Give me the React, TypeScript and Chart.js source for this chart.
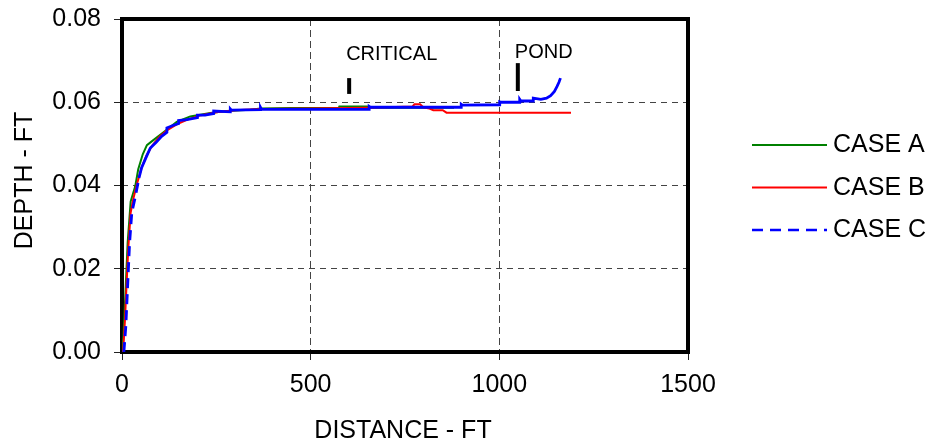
import React, { useEffect, useRef } from "react";
import { Chart, registerables } from "chart.js";

Chart.register(...registerables);

const FONT = '"Liberation Sans", Arial, Helvetica, sans-serif';

// Series names and colours
const seriesNames = ["CASE A", "CASE B", "CASE C"];
const seriesColors = ["#008000", "#ff0000", "#0000ff"];

// Axis ranges / tick steps
const distTicks = [0, 500, 1000, 1500];
const depthTicks = [0, 0.02, 0.04, 0.06, 0.08];

// CASE A profile (distance ft, depth ft)
const caseADist = [0, 4, 9, 15, 23, 35, 43, 55, 66, 83, 110, 145, 181, 234, 278, 340, 367, 450, 574, 576, 650, 655, 880];
const caseADepth = [0, 0.004, 0.014, 0.0263, 0.0362, 0.0398, 0.0439, 0.0475, 0.0497, 0.0509, 0.0528, 0.0553, 0.0566, 0.0574, 0.0579, 0.0582, 0.0585, 0.0586, 0.0586, 0.059, 0.059, 0.0587, 0.0587];

// CASE B profile
const caseBDist = [3, 8, 13, 17, 23, 30, 40, 52, 65, 80, 100, 120, 145, 175, 210, 250, 300, 367, 500, 655, 770, 775, 790, 800, 815, 825, 850, 860, 1190];
const caseBDepth = [0, 0.008, 0.018, 0.0254, 0.0335, 0.0368, 0.0405, 0.0443, 0.0472, 0.0496, 0.0518, 0.0533, 0.0547, 0.0559, 0.0569, 0.0576, 0.0581, 0.0584, 0.0585, 0.0587, 0.059, 0.0595, 0.0595, 0.0587, 0.0585, 0.0581, 0.0581, 0.0575, 0.0575];

// CASE C profile
const caseCDist = [5, 10, 15, 20, 26, 35, 45, 52, 65, 75, 90, 105, 119, 119, 135, 150, 150, 172, 200, 200, 220, 243, 243, 287, 287, 290, 367, 367, 370, 655, 655, 658, 899, 899, 902, 1001, 1001, 1004, 1054, 1054, 1057, 1090, 1090, 1110, 1125, 1136, 1146, 1153, 1158, 1162];
const caseCDepth = [0, 0.006, 0.016, 0.026, 0.0335, 0.0372, 0.0418, 0.0443, 0.047, 0.049, 0.0503, 0.0518, 0.0528, 0.0538, 0.0544, 0.0549, 0.0556, 0.0558, 0.0563, 0.0569, 0.0569, 0.0573, 0.0579, 0.0577, 0.0584, 0.0581, 0.0582, 0.0588, 0.0583, 0.0583, 0.059, 0.0588, 0.0588, 0.0595, 0.0593, 0.0594, 0.0601, 0.06, 0.06, 0.0607, 0.0603, 0.0603, 0.061, 0.0607, 0.061, 0.0616, 0.0626, 0.0638, 0.0648, 0.0658];

// Location markers
const markerLabels = ["CRITICAL", "POND"];
const markerDist = [602, 1049];
const markerLow = [0.062, 0.0627];
const markerHigh = [0.0658, 0.0694];
const labelDepth = [0.0702, 0.0706];

const toPoints = (xs: number[], ys: number[]) => xs.map((x, i) => ({ x, y: ys[i] }));

const decorations = {
  id: "decorations",
  beforeDatasetsDraw(chart: any) {
    const { ctx, chartArea: a } = chart;
    ctx.save();
    ctx.strokeStyle = "#000";
    ctx.lineWidth = 4;
    ctx.strokeRect(a.left, a.top, a.right - a.left, a.bottom - a.top);
    ctx.restore();
  },
  afterDraw(chart: any) {
    const { ctx, chartArea: a, scales } = chart;
    const xs = scales.x;
    const ys = scales.y;
    ctx.save();
    ctx.fillStyle = "#000";

    // marker captions
    ctx.font = `20px ${FONT}`;
    ctx.textAlign = "left";
    ctx.textBaseline = "alphabetic";
    markerLabels.forEach((t, i) => {
      ctx.fillText(t, xs.getPixelForValue(markerDist[i]) - 3, ys.getPixelForValue(labelDepth[i]));
    });

    // axis titles
    ctx.font = `25px ${FONT}`;
    ctx.textAlign = "center";
    ctx.fillText("DISTANCE - FT", (a.left + a.right) / 2 - 2, 438);
    ctx.save();
    ctx.translate(32, (a.top + a.bottom) / 2 - 5);
    ctx.rotate(-Math.PI / 2);
    ctx.fillText("DEPTH - FT", 0, 0);
    ctx.restore();

    // legend
    const lx0 = a.right + 64;
    const lx1 = lx0 + 75;
    seriesNames.forEach((name, i) => {
      const ly = 145 + i * 42.5;
      ctx.save();
      ctx.strokeStyle = seriesColors[i];
      ctx.lineWidth = i === 2 ? 2.5 : 2;
      ctx.setLineDash(i === 2 ? [11, 7] : []);
      ctx.beginPath();
      ctx.moveTo(lx0, ly);
      ctx.lineTo(lx1, ly);
      ctx.stroke();
      ctx.restore();
      ctx.textAlign = "left";
      ctx.fillText(name, lx1 + 6, ly + 7);
    });
    ctx.restore();
  },
};

export default function App() {
  const canvasRef = useRef<HTMLCanvasElement | null>(null);

  useEffect(() => {
    const canvas = canvasRef.current;
    if (!canvas) return;

    const edgeClear = (edges: number[]) => (c: any) =>
      c.tick && edges.some((e) => Math.abs(c.tick.value - e) < 1e-9) ? "rgba(0,0,0,0)" : "#444";

    const markerSets = markerDist.map((d, i) => ({
      label: markerLabels[i],
      data: [
        { x: d, y: markerLow[i] },
        { x: d, y: markerHigh[i] },
      ],
      showLine: true,
      borderColor: "#000",
      borderWidth: 4,
      pointRadius: 0,
      order: 0,
    }));

    const chart = new Chart(canvas, {
      type: "scatter",
      data: {
        datasets: [
          {
            label: seriesNames[2],
            data: toPoints(caseCDist, caseCDepth),
            showLine: true,
            borderColor: seriesColors[2],
            borderWidth: 2.8,
            pointRadius: 0,
            order: 1,
            segment: {
              borderDash: (c: any) => (c.p1.parsed.y < 0.044 ? [10, 6] : undefined),
            },
          },
          {
            label: seriesNames[1],
            data: toPoints(caseBDist, caseBDepth),
            showLine: true,
            borderColor: seriesColors[1],
            borderWidth: 2,
            pointRadius: 0,
            order: 2,
          },
          {
            label: seriesNames[0],
            data: toPoints(caseADist, caseADepth),
            showLine: true,
            borderColor: seriesColors[0],
            borderWidth: 2,
            pointRadius: 0,
            order: 3,
          },
          ...markerSets,
        ],
      },
      options: {
        responsive: false,
        devicePixelRatio: 1,
        animation: false,
        events: [],
        layout: { padding: { left: 0, right: 247, top: 19, bottom: 0 } },
        plugins: { legend: { display: false }, tooltip: { enabled: false } },
        scales: {
          x: {
            type: "linear",
            min: distTicks[0],
            max: distTicks[distTicks.length - 1],
            afterFit: (s: any) => {
              s.height = 96;
              s.paddingLeft = 0;
              s.paddingRight = 0;
            },
            ticks: {
              stepSize: distTicks[1] - distTicks[0],
              color: "#000",
              padding: 10,
              font: { family: FONT, size: 25 },
              maxRotation: 0,
              callback: (v: any) => String(v),
            },
            grid: {
              color: edgeClear([distTicks[0], distTicks[distTicks.length - 1]]),
              lineWidth: 1,
              tickLength: 8,
              tickColor: "#222",
              tickWidth: 1,
            },
            border: { display: false, dash: [7, 4] },
          },
          y: {
            type: "linear",
            min: depthTicks[0],
            max: depthTicks[depthTicks.length - 1],
            afterFit: (s: any) => {
              s.width = 122;
              s.paddingTop = 0;
              s.paddingBottom = 0;
            },
            ticks: {
              stepSize: depthTicks[1] - depthTicks[0],
              color: "#000",
              padding: 13,
              font: { family: FONT, size: 25 },
              callback: (v: any) => Number(v).toFixed(2),
            },
            grid: {
              color: edgeClear([depthTicks[0], depthTicks[depthTicks.length - 1]]),
              lineWidth: 1,
              tickLength: 8,
              tickColor: "#222",
              tickWidth: 1,
            },
            border: { display: false, dash: [6, 5] },
          },
        },
      },
      plugins: [decorations],
    } as any);

    return () => chart.destroy();
  }, []);

  return (
    <div style={{ position: "fixed", left: 0, top: 0, width: 935, height: 448, background: "#fff" }}>
      <canvas ref={canvasRef} width={935} height={448} style={{ display: "block" }} />
    </div>
  );
}
